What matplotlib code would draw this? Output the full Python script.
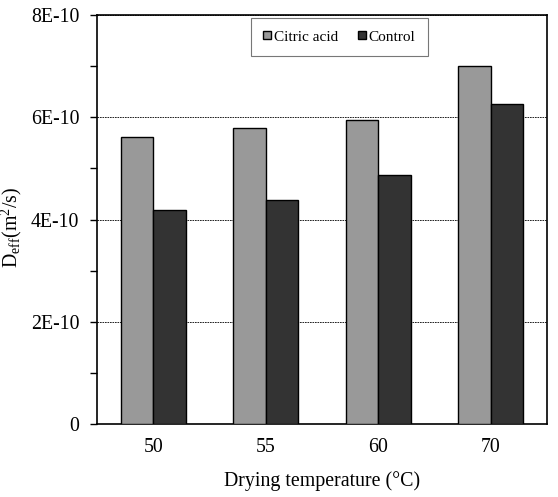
import numpy as np
import matplotlib
matplotlib.use("Agg")
import matplotlib.pyplot as plt
from matplotlib.ticker import MultipleLocator

plt.rcParams['font.family'] = ['Liberation Serif', 'DejaVu Serif']
plt.rcParams['mathtext.fontset'] = 'custom'
plt.rcParams['mathtext.rm'] = 'Liberation Serif'
plt.rcParams['mathtext.it'] = 'Liberation Serif:italic'

# data
temps = ["50", "55", "60", "70"]
citric = [5.61e-10, 5.79e-10, 5.95e-10, 7.00e-10]
control = [4.19e-10, 4.38e-10, 4.87e-10, 6.27e-10]
yticks = [0, 2e-10, 4e-10, 6e-10, 8e-10]
ytick_labels = ["0", "2E-10", "4E-10", "6E-10", "8E-10"]

fig = plt.figure(figsize=(5.58, 4.97), dpi=100)
ax = fig.add_axes([0.1744, 0.1463, 0.8054, 0.8235])

x = np.arange(len(temps))
w = 0.288
ax.bar(x - w / 2, citric, w, color="#999999", edgecolor="black", linewidth=1,
       label="Citric acid", zorder=3)
ax.bar(x + w / 2, control, w, color="#333333", edgecolor="black", linewidth=1,
       label="Control", zorder=3)

ax.set_xlim(-0.5, 3.5)
ax.set_ylim(0, 8e-10)
ax.set_xticks(x, temps)
ax.set_yticks(yticks, ytick_labels)
ax.yaxis.set_minor_locator(MultipleLocator(1e-10))
ax.tick_params(axis="x", length=0, pad=10, labelsize=14.3)
ax.tick_params(axis="y", which="both", direction="out", length=5, width=1,
               pad=8, labelsize=14.3)
for s in ax.spines.values():
    s.set_linewidth(1.2)

ax.yaxis.grid(True, linestyle=(0, (2, 1)), linewidth=0.6, color="black", zorder=0)
ax.set_axisbelow(True)

ax.set_xlabel("Drying temperature (°C)", fontsize=14.3, labelpad=10)
ax.set_ylabel(r"D$_{\mathrm{eff}}$(m$^2$/s)", fontsize=14.3)
ax.yaxis.set_label_coords(-0.163, 0.48)

leg = ax.legend(loc="upper left", bbox_to_anchor=(0.342, 0.992), ncol=2,
                fontsize=11, frameon=True, fancybox=False, edgecolor="#555555",
                handlelength=0.5, handleheight=0.5, handletextpad=0.2,
                columnspacing=1.3, borderpad=0.8, borderaxespad=0)
leg.get_frame().set_linewidth(0.8)

fig.savefig("out.png", dpi=100)
